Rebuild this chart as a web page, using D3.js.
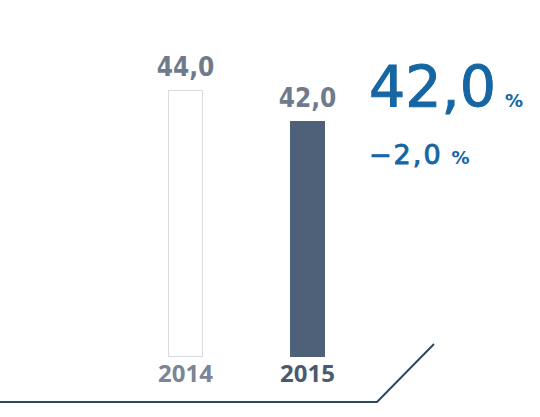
<!DOCTYPE html>
<html>
<head>
<meta charset="utf-8">
<script src="https://cdn.jsdelivr.net/npm/d3@7"></script>
<style>
  html, body { margin: 0; padding: 0; background: #fff; }
  svg { display: block; }
</style>
</head>
<body>
<div id="chart"></div>
<script>
// Data
const years = ['2014', '2015'];
const values = [44.0, 42.0];
const valueLabels = ['44,0', '42,0'];
const headline = '42,0';
const change = '\u22122,0';

const width = 540;
const height = 417;
const condensed = '"DejaVu Sans Condensed", "DejaVu Sans", sans-serif';
const wide = '"DejaVu Sans", sans-serif';
const blue = '#1666a3';

const svg = d3.select('#chart')
  .append('svg')
  .attr('width', width)
  .attr('height', height);

// Scales (bars do not start at zero in the original)
const x = d3.scaleBand()
  .domain(years)
  .range([168, 325])
  .paddingInner(0.713)
  .paddingOuter(0);

const y = d3.scaleLinear()
  .domain([26.8, 44])
  .range([357, 90]);

const fills = ['#ffffff', '#4e6178'];
const strokes = ['#d9dde3', '#4e6178'];
const yearColors = ['#7a8596', '#4a5b70'];

// Bars
svg.selectAll('.bar')
  .data(values)
  .enter()
  .append('rect')
  .attr('class', 'bar')
  .attr('x', (d, i) => x(years[i]) + 0.5)
  .attr('y', d => y(d) + 0.5)
  .attr('width', x.bandwidth() - 1)
  .attr('height', d => y.range()[0] - y(d) - 1)
  .attr('fill', (d, i) => fills[i])
  .attr('stroke', (d, i) => strokes[i])
  .attr('stroke-width', 1);

// Value labels above bars
svg.selectAll('.value')
  .data(values)
  .enter()
  .append('text')
  .attr('class', 'value')
  .attr('x', (d, i) => x(years[i]) + x.bandwidth() / 2)
  .attr('y', d => y(d) - 14)
  .attr('text-anchor', 'middle')
  .attr('fill', '#6f7b8c')
  .attr('font-family', condensed)
  .attr('font-weight', 'bold')
  .attr('font-size', '26px')
  .text((d, i) => valueLabels[i]);

// Year labels
svg.selectAll('.year')
  .data(years)
  .enter()
  .append('text')
  .attr('class', 'year')
  .attr('x', d => x(d) + x.bandwidth() / 2)
  .attr('y', 382)
  .attr('text-anchor', 'middle')
  .attr('fill', (d, i) => yearColors[i])
  .attr('font-family', '"Open Sans", sans-serif')
  .attr('font-weight', 'bold')
  .attr('font-size', '24px')
  .text(d => d);

// Baseline with diagonal
svg.append('path')
  .attr('d', 'M0,402 L377,402 L434,344')
  .attr('fill', 'none')
  .attr('stroke', '#2c4a5f')
  .attr('stroke-width', 2);

// Headline
const big = svg.append('text')
  .attr('x', 369)
  .attr('y', 107)
  .attr('fill', blue)
  .attr('stroke', blue)
  .attr('stroke-width', 1)
  .attr('font-family', wide)
  .attr('font-size', '57px');
big.append('tspan').text(headline);
big.append('tspan')
  .attr('dx', 9)
  .attr('font-size', '18px')
  .attr('font-weight', 'bold')
  .attr('stroke-width', 0)
  .text('%');

const small = svg.append('text')
  .attr('x', 369)
  .attr('y', 164)
  .attr('fill', blue)
  .attr('stroke', blue)
  .attr('stroke-width', 0.9)
  .attr('font-family', wide)
  .attr('font-size', '27px')
  .attr('letter-spacing', '2px');
small.append('tspan').text(change);
small.append('tspan')
  .attr('dx', 9)
  .attr('font-size', '18px')
  .attr('font-weight', 'bold')
  .attr('stroke-width', 0)
  .attr('letter-spacing', '0px')
  .text('%');
</script>
</body>
</html>
